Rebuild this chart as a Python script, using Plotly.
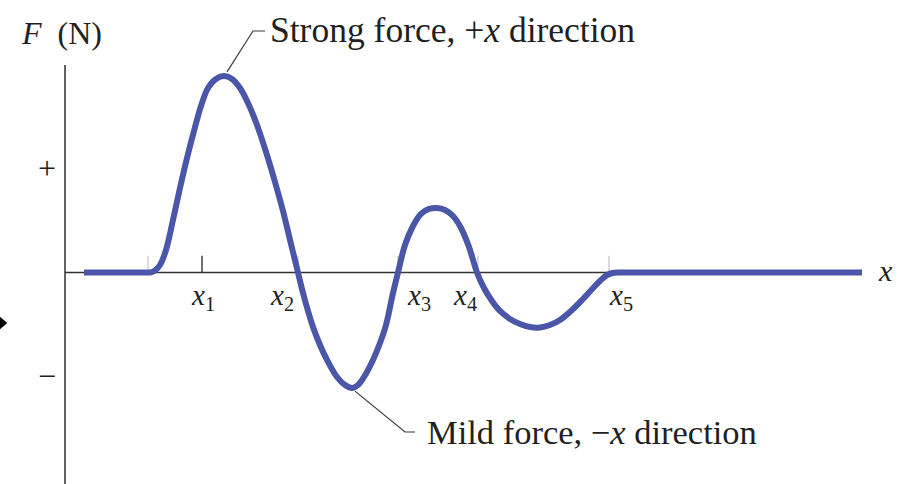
import plotly.graph_objects as go

# Force F (in units of the "+" tick) against position x (arbitrary units)
x_vals = [0.19, 0.55, 0.80, 0.85, 0.90, 0.95, 1.01, 1.08, 1.15, 1.22, 1.29, 1.36, 1.43, 1.51,
          1.59, 1.67, 1.75, 1.83, 1.92, 2.01, 2.10, 2.18, 2.26, 2.33, 2.38, 2.48, 2.55,
          2.62, 2.72, 2.80, 2.87, 2.93, 2.99, 3.08, 3.15, 3.21, 3.28, 3.33, 3.40, 3.48,
          3.56, 3.64, 3.72, 3.80, 3.88, 3.96, 4.04, 4.12, 4.19, 4.27, 4.35, 4.45, 4.55,
          4.65, 4.75, 4.85, 4.95, 5.07, 5.18, 5.30, 5.37, 5.43, 5.49, 5.56, 5.75, 7.97]
f_vals = [0.0, 0.0, 0.0, 0.0, 0.019, 0.072, 0.216, 0.505, 0.813, 1.101, 1.361, 1.601, 1.774, 1.861,
          1.889, 1.861, 1.774, 1.630, 1.418, 1.159, 0.870, 0.591, 0.274, 0.0, -0.197, -0.524, -0.697,
          -0.841, -1.005, -1.082, -1.111, -1.082, -1.005, -0.841, -0.678, -0.505, -0.197, 0.0, 0.264, 0.447,
          0.563, 0.611, 0.620, 0.601, 0.543, 0.428, 0.245, 0.0, -0.149, -0.274, -0.370, -0.447, -0.495,
          -0.524, -0.529, -0.505, -0.457, -0.361, -0.255, -0.130, -0.062, -0.020, -0.003, 0.0, 0.0, 0.0]

# Marked positions along the x axis
tick_names = ["x1", "x2", "x3", "x4", "x5"]
tick_pos = [1.37, 2.33, 3.33, 4.13, 5.44]
label_anchor = ["center", "right", "left", "right", "left"]
label_offset = [0.01, -0.02, 0.07, 0.01, -0.02]
plain_ticks = [0.83, 2.33, 3.33, 4.13, 5.44]

# Force tick labels
f_tick_pos = [1.0, -1.0]
f_tick_text = ["+", "\u2212"]

strong_label = "Strong force, +<i>x</i> direction"
mild_label = "Mild force, \u2212<i>x</i> direction"

SERIF = "Liberation Serif"
INK = "#231f20"
BLUE = "#4a57a8"

fig = go.Figure()

fig.add_trace(go.Scatter(
    x=x_vals, y=f_vals, mode="lines",
    line=dict(color=BLUE, width=6, shape="spline", smoothing=1.0),
    hoverinfo="skip", showlegend=False,
))

shapes = []
# axes
shapes.append(dict(type="line", xref="x", yref="y", x0=0, x1=0, y0=1.995, y1=-2.1,
                   line=dict(color="#3c3c3c", width=1.6), layer="below"))
shapes.append(dict(type="line", xref="x", yref="y", x0=0, x1=x_vals[-1], y0=0, y1=0,
                   line=dict(color="#333333", width=1.6), layer="below"))
# tick marks
for p in plain_ticks:
    shapes.append(dict(type="line", xref="x", yref="y", x0=p, x1=p, y0=0, y1=0.16,
                       line=dict(color="#b8b8b8", width=1), layer="below"))
shapes.append(dict(type="line", xref="x", yref="y", x0=tick_pos[0], x1=tick_pos[0], y0=0, y1=0.16,
                   line=dict(color="#333333", width=1.4), layer="below"))

# leader lines to the two labelled extremes
i_max = f_vals.index(max(f_vals))
i_min = f_vals.index(min(f_vals))
shapes.append(dict(type="path", xref="x", yref="y",
                   path=f"M {x_vals[i_max]+0.03},{f_vals[i_max]+0.04} L 1.88,2.322 L 2.00,2.322",
                   line=dict(color="#3a3a3a", width=1.2)))
shapes.append(dict(type="path", xref="x", yref="y",
                   path=f"M {x_vals[i_min]+0.03},{f_vals[i_min]-0.03} L 3.40,-1.534 L 3.50,-1.534",
                   line=dict(color="#3a3a3a", width=1.2)))

# small pointer at the left edge
shapes.append(dict(type="path", xref="paper", yref="paper",
                   path="M -0.001,0.347 L 0.008,0.3326 L -0.001,0.318 Z",
                   fillcolor="black", line=dict(width=0)))

annotations = []
for name, p, xa, off in zip(tick_names, tick_pos, label_anchor, label_offset):
    txt = f"<i>{name[0]}</i><sub>{name[1:]}</sub>"
    annotations.append(dict(x=p + off, y=0, xref="x", yref="y", text=txt, showarrow=False,
                            xanchor=xa, yanchor="top", yshift=-5,
                            font=dict(family=SERIF, size=29, color=INK)))

for p, t in zip(f_tick_pos, f_tick_text):
    annotations.append(dict(x=-0.18, y=p, xref="x", yref="y", text=t, showarrow=False,
                            xanchor="center", yanchor="middle",
                            font=dict(family=SERIF, size=32, color=INK)))

annotations.append(dict(x=-0.46, y=2.30, xref="x", yref="y",
                        text="<i>F</i>\u2002(N)", showarrow=False,
                        xanchor="left", yanchor="middle",
                        font=dict(family=SERIF, size=32, color=INK)))
annotations.append(dict(x=8.20, y=0, xref="x", yref="y", text="<i>x</i>", showarrow=False,
                        xanchor="center", yanchor="middle", yshift=2,
                        font=dict(family=SERIF, size=30, color=INK)))
annotations.append(dict(x=2.03, y=2.33, xref="x", yref="y", text=strong_label, showarrow=False,
                        xanchor="left", yanchor="middle",
                        font=dict(family=SERIF, size=35.5, color=INK)))
annotations.append(dict(x=3.60, y=-1.534, xref="x", yref="y", text=mild_label, showarrow=False,
                        xanchor="left", yanchor="middle",
                        font=dict(family=SERIF, size=34.5, color=INK)))

fig.update_layout(
    width=904, height=484,
    margin=dict(l=0, r=0, t=0, b=0),
    paper_bgcolor="white", plot_bgcolor="white",
    xaxis=dict(range=[-0.65, 8.39], visible=False, fixedrange=True),
    yaxis=dict(range=[-2.034, 2.620], visible=False, fixedrange=True),
    shapes=shapes, annotations=annotations,
    showlegend=False,
)

fig.write_html("out.html")
